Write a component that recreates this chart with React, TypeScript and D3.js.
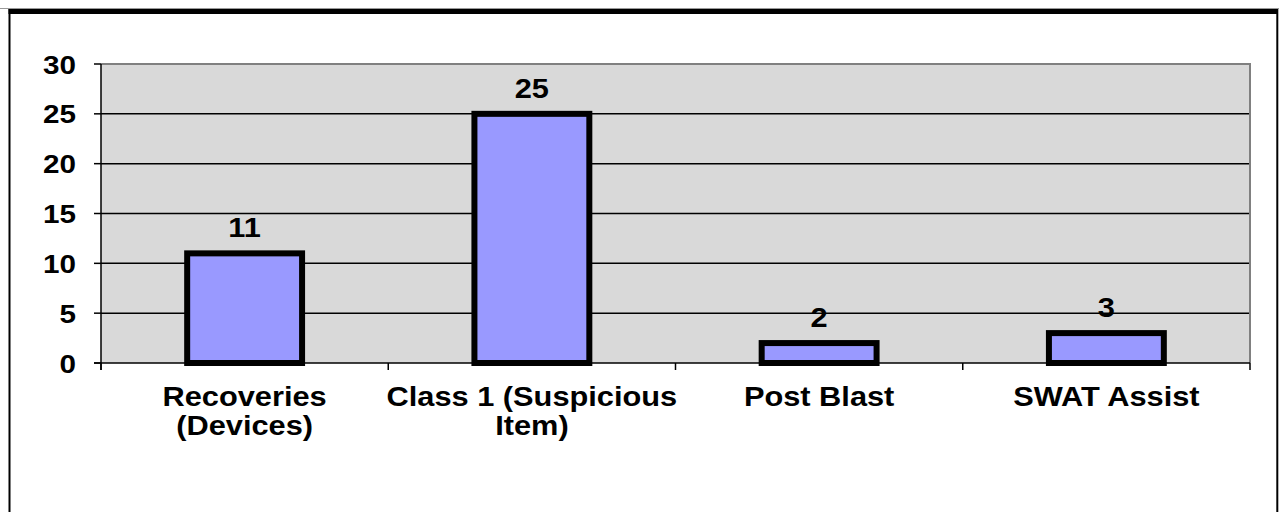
import React from "react";
import * as d3 from "d3";

const categories: string[][] = [
  ["Recoveries", "(Devices)"],
  ["Class 1 (Suspicious", "Item)"],
  ["Post Blast"],
  ["SWAT Assist"],
];
const values: number[] = [11, 25, 2, 3];
const yTicks: number[] = [0, 5, 10, 15, 20, 25, 30];

const W = 1279;
const H = 512;
const FONT = "'Liberation Sans', Arial, sans-serif";
const SX = 1.14;

function SText(props: {
  x: number;
  y: number;
  size: number;
  anchor: "start" | "middle" | "end";
  children: React.ReactNode;
}) {
  return (
    <text
      transform={`translate(${props.x},${props.y}) scale(${SX},1)`}
      fontFamily={FONT}
      fontWeight="bold"
      fontSize={props.size}
      textAnchor={props.anchor}
      fill="#000"
    >
      {props.children}
    </text>
  );
}

export default function App() {
  const x0 = 101;
  const x1 = 1250;
  const yTop = 64;
  const yBot = 363;

  const xBand = d3
    .scaleBand<number>()
    .domain(d3.range(categories.length))
    .range([x0, x1])
    .paddingInner(0)
    .paddingOuter(0);
  const bw = xBand.bandwidth();
  const barW = bw / 2.5;
  const y = d3.scaleLinear().domain([0, 30]).range([yBot, yTop]);

  const boundaries = d3.range(categories.length + 1).map((i) => x0 + i * bw);

  return (
    <svg
      width={W}
      height={H}
      style={{ position: "absolute", left: 0, top: 0, background: "#fff" }}
    >
      {/* outer frame */}
      <line x1={0} x2={W} y1={8.5} y2={8.5} stroke="#999" strokeWidth={1} />
      <rect x={8.5} y={9} width={1278 - 8.5} height={5} fill="#000" />
      <line x1={9.5} x2={9.5} y1={9} y2={H + 10} stroke="#000" strokeWidth={2} />
      <line x1={1277.3} x2={1277.3} y1={9} y2={H + 10} stroke="#000" strokeWidth={2} />

      {/* plot area */}
      <rect x={x0} y={yTop} width={x1 - x0} height={yBot - yTop} fill="#d9d9d9" />
      {yTicks
        .filter((t) => t > 0 && t < 30)
        .map((t) => (
          <line
            key={"g" + t}
            x1={x0}
            x2={x1}
            y1={y(t)}
            y2={y(t)}
            stroke="#000"
            strokeWidth={1.5}
          />
        ))}
      {/* plot border top/right gray */}
      <polyline
        points={`${x0},${yTop} ${x1},${yTop} ${x1},${yBot}`}
        fill="none"
        stroke="#808080"
        strokeWidth={2}
      />

      {/* bars */}
      {values.map((v, i) => {
        const cx = (xBand(i) as number) + bw / 2;
        return (
          <rect
            key={"b" + i}
            x={cx - barW / 2}
            y={y(v)}
            width={barW}
            height={yBot - y(v)}
            fill="#9999ff"
            stroke="#000"
            strokeWidth={6}
          />
        );
      })}

      {/* axes */}
      <line x1={x0} x2={x0} y1={yTop} y2={yBot + 7} stroke="#000" strokeWidth={1.5} />
      <line x1={x0 - 7} x2={x1} y1={yBot} y2={yBot} stroke="#000" strokeWidth={1.5} />
      {yTicks.map((t) => (
        <line
          key={"yt" + t}
          x1={x0 - 7}
          x2={x0}
          y1={y(t)}
          y2={y(t)}
          stroke="#000"
          strokeWidth={1.5}
        />
      ))}
      {boundaries.map((bx, i) => (
        <line
          key={"xt" + i}
          x1={bx}
          x2={bx}
          y1={yBot}
          y2={yBot + 7}
          stroke="#000"
          strokeWidth={1.5}
        />
      ))}

      {/* y tick labels */}
      {yTicks.map((t) => (
        <SText key={"yl" + t} x={76} y={y(t) + 9.5} size={26} anchor="end">
          {t}
        </SText>
      ))}

      {/* data labels */}
      {values.map((v, i) => {
        const cx = (xBand(i) as number) + bw / 2;
        return (
          <SText key={"dl" + i} x={cx} y={y(v) - 16} size={27} anchor="middle">
            {v}
          </SText>
        );
      })}

      {/* category labels */}
      {categories.map((lines, i) => {
        const cx = (xBand(i) as number) + bw / 2;
        return (
          <g key={"cl" + i}>
            {lines.map((ln, j) => (
              <SText key={j} x={cx} y={406 + j * 29} size={27} anchor="middle">
                {ln}
              </SText>
            ))}
          </g>
        );
      })}
    </svg>
  );
}
